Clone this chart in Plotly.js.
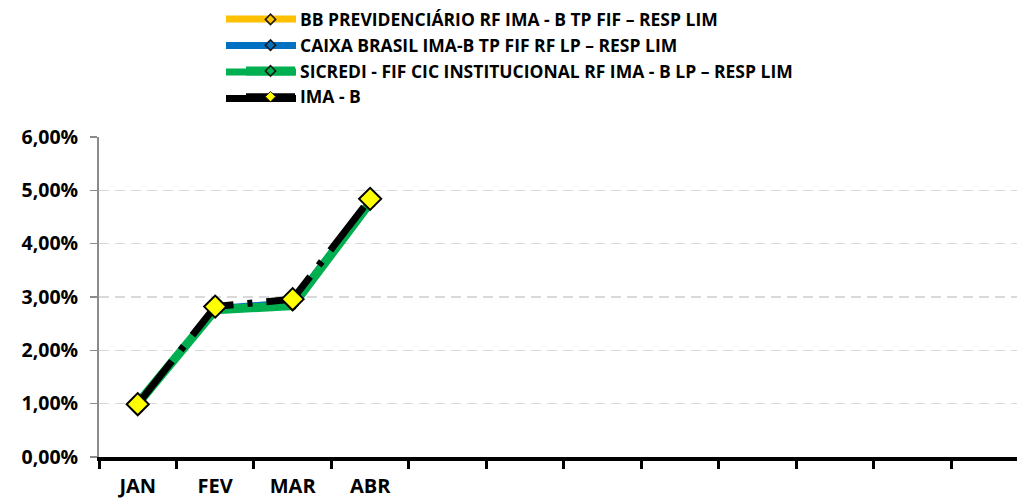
<!DOCTYPE html>
<html>
<head>
<meta charset="utf-8">
<script src="https://cdn.plot.ly/plotly-3.0.1.min.js"></script>
<style>
  html, body { margin: 0; padding: 0; background: #ffffff; }
  #chart { width: 1017px; height: 501px; }
</style>
</head>
<body>
<div id="chart"></div>
<script>
// ---- data (percent units) ----
const months = ['JAN','FEV','MAR','ABR','MAI','JUN','JUL','AGO','SET','OUT','NOV','DEZ'];
const monthLabels = ['JAN','FEV','MAR','ABR','','','','','','','',''];
const dataMonths = ['JAN','FEV','MAR','ABR'];
const seriesNames = [
  'BB PREVIDENCIÁRIO RF IMA - B TP FIF – RESP LIM',
  'CAIXA BRASIL IMA-B TP FIF RF LP – RESP LIM',
  'SICREDI - FIF CIC INSTITUCIONAL RF IMA - B LP – RESP LIM',
  'IMA - B'
];
const seriesColors = ['#FFC000', '#0070C0', '#00B050', '#000000'];
const bbValues      = [1.00, 2.79, 2.89, 4.80];
const caixaValues   = [1.00, 2.80, 2.91, 4.82];
const sicrediValues = [1.00, 2.76, 2.84, 4.77];
const imabValues    = [0.99, 2.82, 2.96, 4.84];
const yTicks = [0, 1, 2, 3, 4, 5, 6];
const yTickLabels = ['0,00%', '1,00%', '2,00%', '3,00%', '4,00%', '5,00%', '6,00%'];

const FONT = '"Open Sans", "Noto Sans", Arial, sans-serif';

// geometry helpers (pixels -> paper) for the legend line extensions
const W = 1017, H = 501, ML = 99, MR = 0, MT = 137, MB = 44;
const PW = W - ML - MR, PH = H - MT - MB;
const px2x = p => (p - ML) / PW;
const px2y = p => (H - MB - p) / PH;
const legendRowY = [19, 45.5, 72, 98.5];

function lineTrace(name, y, color, width, group, mcolor, msize, dash, showleg) {
  return {
    type: 'scatter', mode: 'lines+markers', name: name, x: dataMonths, y: y,
    legendgroup: group, showlegend: showleg,
    line: {color: color, width: width, dash: dash || 'solid'},
    marker: {symbol: 'diamond', size: msize, color: mcolor,
             line: {color: msize > 12 ? '#000000' : '#1a1a1a', width: msize > 12 ? 2 : 1.5}}
  };
}

const traces = [
  lineTrace(seriesNames[0], bbValues, seriesColors[0], 5, 'g1', '#FFC000', 8, null, true),
  lineTrace(seriesNames[1], caixaValues, seriesColors[1], 5, 'g2', '#0070C0', 8, null, true),
  lineTrace(seriesNames[2], sicrediValues, seriesColors[2], 9, 'g3', '#00B050', 8, null, true),
  lineTrace(seriesNames[3], imabValues, seriesColors[3], 7, 'g4', '#FFFF00', 17, '55px,14px,5px,14px', false),
  // legend entry for IMA - B (solid line, small marker as in the reference legend)
  {
    type: 'scatter', mode: 'lines+markers', name: seriesNames[3], x: [null], y: [null],
    legendgroup: 'g4', showlegend: true,
    line: {color: '#000000', width: 7},
    marker: {symbol: 'diamond', size: 8, color: '#FFFF00', line: {color: '#1a1a1a', width: 1}}
  }
];

const legendLineShapes = seriesColors.map((c, i) => ({
  type: 'line', xref: 'paper', yref: 'paper', layer: 'below',
  x0: px2x(226), x1: px2x(296), y0: px2y(legendRowY[i]), y1: px2y(legendRowY[i]),
  line: {color: c, width: 7}
}));

const layout = {
  width: W, height: H,
  margin: {l: ML, r: MR, t: MT, b: MB, pad: 0},
  paper_bgcolor: '#ffffff', plot_bgcolor: '#ffffff',
  separators: ',.',
  font: {family: FONT, color: '#000000'},
  showlegend: true,
  legend: {
    x: px2x(241), y: px2y(1.5), xanchor: 'left', yanchor: 'top',
    font: {family: FONT, size: 17.5, color: '#000000', weight: 'bold'},
    tracegroupgap: 9, traceorder: 'normal', bgcolor: 'rgba(0,0,0,0)',
    itemsizing: 'trace', itemwidth: 49
  },
  shapes: legendLineShapes,
  xaxis: {
    type: 'category', categoryorder: 'array', categoryarray: months,
    range: [-0.5, 11.35], fixedrange: true,
    tickmode: 'array', tickvals: months, ticktext: monthLabels,
    tickson: 'boundaries', ticks: 'outside', ticklen: 8, tickwidth: 3, tickcolor: '#000000',
    showline: true, linecolor: '#000000', linewidth: 4,
    showgrid: false, zeroline: false,
    ticklabelstandoff: 8,
    tickfont: {family: FONT, size: 20, color: '#000000', weight: 'bold'}
  },
  yaxis: {
    range: [0, 6], fixedrange: true,
    tickmode: 'array', tickvals: yTicks, ticktext: yTickLabels,
    ticks: 'outside', ticklen: 7, tickwidth: 1.5, tickcolor: '#8c8c8c',
    showline: true, linecolor: '#8c8c8c', linewidth: 2,
    showgrid: true, gridcolor: '#d9d9d9', gridwidth: 1.5, griddash: '10px,6px',
    zeroline: false,
    ticklabelstandoff: 8,
    tickfont: {family: FONT, size: 19.5, color: '#000000', weight: 'bold'}
  }
};

Plotly.newPlot('chart', traces, layout, {displayModeBar: false, staticPlot: true});
</script>
</body>
</html>
